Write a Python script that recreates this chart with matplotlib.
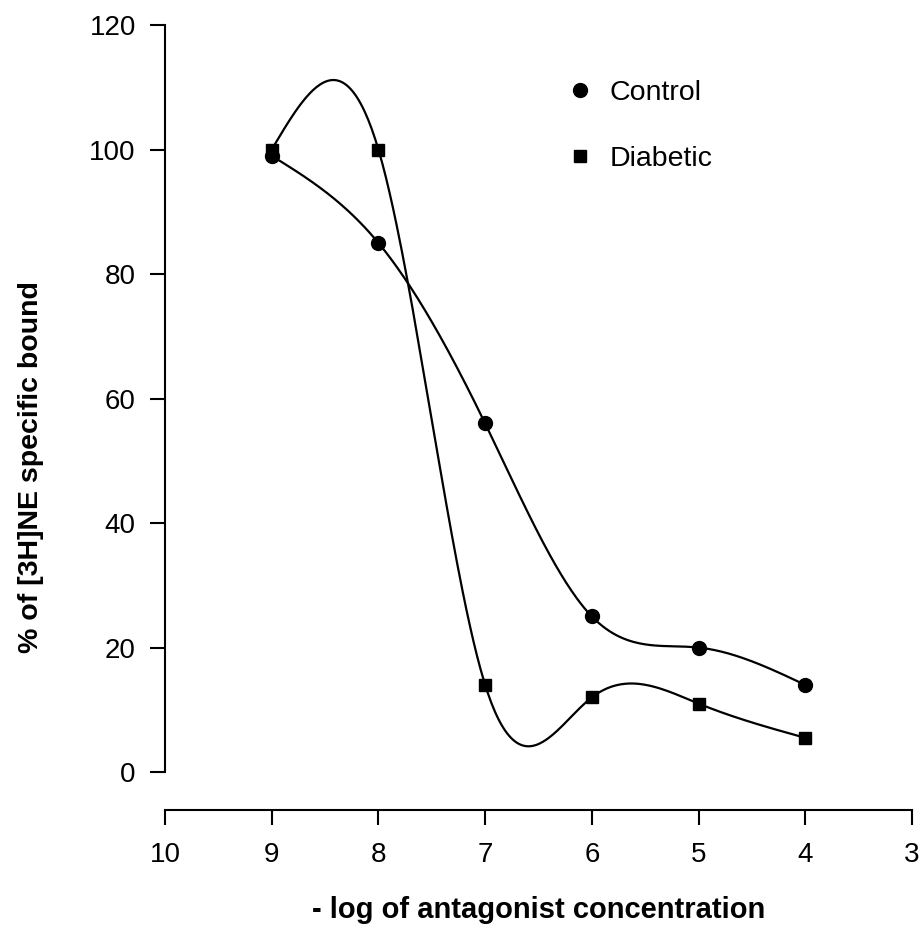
import numpy as np
import matplotlib.pyplot as plt

# -log concentration of antagonist
conc = [9, 8, 7, 6, 5, 4]
control = [99, 85, 56, 25, 20, 14]
diabetic = [100, 100, 14, 12, 11, 5.5]

x_ticks = [10, 9, 8, 7, 6, 5, 4, 3]
y_ticks = [0, 20, 40, 60, 80, 100, 120]


def natural_spline(x, y, n=300):
    # natural cubic spline through the points, evaluated on a fine grid
    x = np.asarray(x, float)
    y = np.asarray(y, float)
    order = np.argsort(x)
    x, y = x[order], y[order]
    k = len(x)
    h = np.diff(x)
    A = np.zeros((k, k))
    b = np.zeros(k)
    A[0, 0] = A[-1, -1] = 1
    for i in range(1, k - 1):
        A[i, i - 1] = h[i - 1]
        A[i, i] = 2 * (h[i - 1] + h[i])
        A[i, i + 1] = h[i]
        b[i] = 6 * ((y[i + 1] - y[i]) / h[i] - (y[i] - y[i - 1]) / h[i - 1])
    M = np.linalg.solve(A, b)
    xs = np.linspace(x[0], x[-1], n)
    idx = np.clip(np.searchsorted(x, xs) - 1, 0, k - 2)
    x0, x1 = x[idx], x[idx + 1]
    hh = x1 - x0
    t0 = x1 - xs
    t1 = xs - x0
    ys = (M[idx] * t0 ** 3 + M[idx + 1] * t1 ** 3) / (6 * hh) \
        + (y[idx] / hh - M[idx] * hh / 6) * t0 \
        + (y[idx + 1] / hh - M[idx + 1] * hh / 6) * t1
    return xs, ys


plt.rcParams['font.family'] = ['Liberation Sans', 'DejaVu Sans']

fig = plt.figure(figsize=(9.24, 9.43), dpi=100)
ax = fig.add_axes([0.1786, 0.141, 0.8084, 0.8324])

for vals, mk, ms, name in [(control, 'o', 10, 'Control'), (diabetic, 's', 8.5, 'Diabetic')]:
    xs, ys = natural_spline(conc, vals)
    ax.plot(xs, ys, color='black', lw=1.6)
    ax.plot(conc, vals, ls='none', marker=mk, ms=ms, color='black', label=name)

ax.set_xlim(10, 3)
ax.set_ylim(-6.1, 120)
ax.set_xticks(x_ticks)
ax.set_yticks(y_ticks)

for s in ['top', 'right']:
    ax.spines[s].set_visible(False)
ax.spines['left'].set_bounds(0, 120)
ax.spines['left'].set_linewidth(1.5)
ax.spines['bottom'].set_linewidth(1.5)

ax.tick_params(axis='both', direction='out', length=11, width=1.5,
               labelsize=20)
ax.tick_params(axis='y', pad=10)
ax.tick_params(axis='x', pad=12)

ax.set_xlabel('- log of antagonist concentration', fontsize=21,
              fontweight='bold', labelpad=20)
ax.set_ylabel('% of [3H]NE specific bound', fontsize=20.5,
              fontweight='bold')
ax.yaxis.set_label_coords(-0.162, 0.437)

ax.legend(loc='upper left', bbox_to_anchor=(0.529, 0.945), frameon=False,
          fontsize=20.5, handlelength=0.6, handletextpad=0.75,
          labelspacing=1.4, borderaxespad=0)

fig.savefig('out.png', dpi=100)
